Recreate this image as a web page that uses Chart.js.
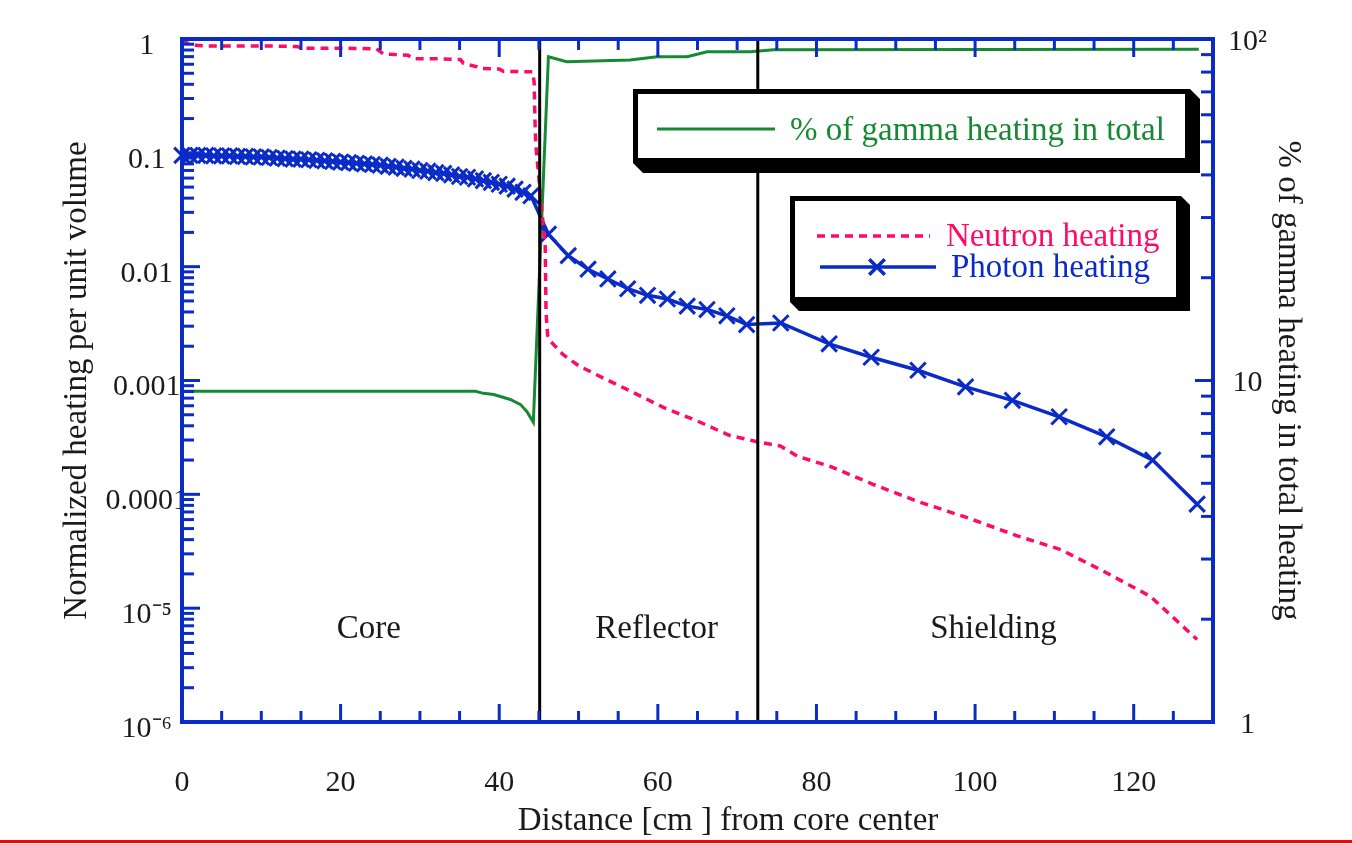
<!DOCTYPE html>
<html>
<head>
<meta charset="utf-8">
<script src="https://cdn.jsdelivr.net/npm/chart.js@4.4.1/dist/chart.umd.min.js"></script>
<style>
  html, body { margin: 0; padding: 0; background: #fff; overflow: hidden; }
  #wrap { width: 1352px; height: 844px; position: relative; }
</style>
</head>
<body>
<div id="wrap"><canvas id="heatingChart"></canvas></div>
<script>
// Neutron heating, normalized (left axis)
const neutronX = [0, 0.5, 1.5, 3, 6, 10, 14.5, 15.3, 20, 24.5,
    25.4, 28.5, 29.1, 32, 35.1, 35.5, 37.2, 37.6, 40, 40.5,
    44.2, 44.4, 44.5, 44.6, 45.0, 45.5, 45.8, 45.9, 46.1, 46.5,
    48, 50, 53, 56.5, 60.7, 65, 69, 72.5, 75.5, 77.6,
    81.8, 87.2, 92.7, 99.1, 105.4, 110.8, 116.2, 122.1, 128.0];
const neutronY = [0.98, 0.93, 0.88, 0.87, 0.87, 0.87, 0.86, 0.83, 0.83, 0.82,
    0.74, 0.72, 0.67, 0.67, 0.66, 0.61, 0.57, 0.55, 0.545, 0.52,
    0.515, 0.42, 0.2, 0.12, 0.06, 0.025, 0.015, 0.004, 0.0025, 0.0022,
    0.0017, 0.00135, 0.00106, 0.00081, 0.00058, 0.00044, 0.00033, 0.00029, 0.000265, 0.000216,
    0.000175, 0.000122, 0.000087, 0.000062, 0.000043, 0.0000327, 0.0000211, 0.0000127, 0.0000053];

// Photon heating, normalized (left axis)
const photonX = [0, 1, 2, 3, 4, 5, 6, 7, 8, 9,
    10, 11, 12, 13, 14, 15, 16, 17, 18, 19,
    20, 21, 22, 23, 24, 25, 26, 27, 28, 29,
    30, 31, 32, 33, 34, 35, 36, 37, 38, 39,
    40, 41, 42, 43, 44,
    46.2, 48.7, 51.2, 53.7, 56.2, 58.7, 61.2, 63.7, 66.2, 68.7, 71.2,
    75.5, 81.6, 86.9, 92.8, 98.8, 104.7, 110.6, 116.6, 122.4, 128.0];
const photonY = [0.095, 0.095, 0.095, 0.095, 0.094, 0.094, 0.094, 0.093, 0.093, 0.092,
    0.092, 0.091, 0.090, 0.089, 0.088, 0.088, 0.087, 0.086, 0.085, 0.084,
    0.083, 0.082, 0.081, 0.080, 0.079, 0.078, 0.076, 0.075, 0.073, 0.072,
    0.070, 0.069, 0.067, 0.066, 0.064, 0.062, 0.061, 0.059, 0.057, 0.055,
    0.053, 0.051, 0.048, 0.045, 0.042,
    0.0193, 0.0125, 0.0095, 0.0078, 0.0064, 0.0056, 0.0052, 0.0045, 0.0042, 0.0037, 0.0031,
    0.0032, 0.0021, 0.0016, 0.00123, 0.00088, 0.00067, 0.00048, 0.00032, 0.0002, 0.000082];

// % of gamma heating in total (right axis)
const gammaX = [0, 37, 38, 39.3, 41.4, 42.7, 43.5, 44.3, 46.2, 48.5, 56.5, 59.9, 63.7, 66.2, 71.7, 74.6, 128.2];
const gammaPct = [9.3, 9.3, 9.17, 9.1, 8.8, 8.5, 8.1, 7.55, 88.7, 85.8, 86.8, 88.7, 88.7, 91.8, 91.8, 93.0, 93.3];

const xTicks = [0, 20, 40, 60, 80, 100, 120];
const leftTicks = [1e-6, 1e-5, 1e-4, 1e-3, 1e-2, 1e-1, 1];
const leftTickLabels = ['10⁻⁶', '10⁻⁵', '0.0001', '0.001', '0.01', '0.1', '1'];
const rightTicks = [1, 10, 100];
const rightTickLabels = ['1', '10', '10²'];

const regionNames = ['Core', 'Reflector', 'Shielding'];
const boundaries = [45.1, 72.6];

const axisBlue = '#0a2bc8';
const serif = '"Liberation Serif", "Times New Roman", serif';
Chart.defaults.font.family = serif;
Chart.defaults.color = '#1a1a1a';

const toPoints = (xs, ys) => xs.map((x, i) => ({ x: x, y: ys[i] }));

function line(ctx, x1, y1, x2, y2) {
    ctx.beginPath();
    ctx.moveTo(x1, y1);
    ctx.lineTo(x2, y2);
    ctx.stroke();
}

function shadowBox(ctx, x0, y0, x1, y1, d) {
    ctx.fillStyle = '#000';
    ctx.beginPath();
    ctx.moveTo(x0, y0);
    ctx.lineTo(x1, y0);
    ctx.lineTo(x1 + d, y0 + d);
    ctx.lineTo(x1 + d, y1 + d);
    ctx.lineTo(x0 + d, y1 + d);
    ctx.lineTo(x0, y1);
    ctx.closePath();
    ctx.fill();
    ctx.fillStyle = '#fff';
    ctx.fillRect(x0 + 5, y0 + 5, x1 - x0 - 10, y1 - y0 - 10);
}

// frame, inward ticks, region lines and labels
const decorPlugin = {
    id: 'decor',
    afterDatasetsDraw(chart) {
        const { ctx, chartArea: a, scales } = chart;
        const xs = scales.x, yl = scales.y, yr = scales.y2;
        ctx.save();

        ctx.strokeStyle = '#000';
        ctx.lineWidth = 3;
        boundaries.forEach(b => {
            const px = xs.getPixelForValue(b);
            line(ctx, px, a.top, px, a.bottom);
        });

        ctx.strokeStyle = axisBlue;
        ctx.lineWidth = 4;
        ctx.strokeRect(a.left, a.top, a.right - a.left, a.bottom - a.top);

        ctx.lineWidth = 3;
        for (let v = 5; v < xs.max; v += 5) {
            const px = xs.getPixelForValue(v);
            const len = v % 20 === 0 ? 18 : 11;
            line(ctx, px, a.bottom, px, a.bottom - len);
            line(ctx, px, a.top, px, a.top + len);
        }
        for (let e = -6; e <= 0; e++) {
            for (let m = 1; m <= 9; m++) {
                const v = m * Math.pow(10, e);
                if (v > yl.max * 1.0001) break;
                const py = yl.getPixelForValue(v);
                line(ctx, a.left, py, a.left + (m === 1 ? 18 : 12), py);
            }
        }
        for (let e = 0; e <= 2; e++) {
            for (let m = 1; m <= 9; m++) {
                const v = m * Math.pow(10, e);
                if (v > yr.max * 1.0001) break;
                const py = yr.getPixelForValue(v);
                line(ctx, a.right, py, a.right - (m === 1 ? 18 : 12), py);
            }
        }

        // region names, roughly centred in each region
        const edges = [xs.min].concat(boundaries, [xs.max]);
        ctx.fillStyle = '#1a1a1a';
        ctx.font = '33px ' + serif;
        ctx.textAlign = 'center';
        ctx.textBaseline = 'middle';
        regionNames.forEach((name, i) => {
            const px = xs.getPixelForValue((edges[i] + edges[i + 1]) / 2);
            ctx.fillText(name, px + 8, a.bottom - 93);
        });

        // x axis title
        ctx.fillText('Distance [cm ] from core center', 728, 821);

        ctx.restore();
    },
    afterDraw(chart) {
        const { ctx } = chart;
        const ds = chart.data.datasets;
        ctx.save();

        // legend 1: gamma percentage
        shadowBox(ctx, 633, 89, 1190, 163, 10);
        ctx.strokeStyle = ds[2].borderColor;
        ctx.lineWidth = ds[2].borderWidth;
        line(ctx, 657, 129, 775, 129);
        ctx.font = '33px ' + serif;
        ctx.textAlign = 'left';
        ctx.textBaseline = 'alphabetic';
        ctx.fillStyle = ds[2].borderColor;
        ctx.fillText(ds[2].label, 790, 140);

        // legend 2: neutron and photon
        shadowBox(ctx, 790, 196, 1181, 302, 9);
        ctx.strokeStyle = ds[0].borderColor;
        ctx.lineWidth = ds[0].borderWidth;
        ctx.setLineDash(ds[0].borderDash);
        line(ctx, 817, 236, 930, 236);
        ctx.setLineDash([]);
        ctx.fillStyle = ds[0].borderColor;
        ctx.fillText(ds[0].label, 946, 246);

        ctx.strokeStyle = ds[1].borderColor;
        ctx.lineWidth = ds[1].borderWidth;
        line(ctx, 820, 267, 936, 267);
        Chart.helpers.drawPoint(ctx, {
            pointStyle: ds[1].pointStyle,
            radius: ds[1].pointRadius,
            borderWidth: ds[1].pointBorderWidth
        }, 877, 267);
        ctx.fillStyle = ds[1].borderColor;
        ctx.fillText(ds[1].label, 951, 277);

        // red rule under the figure
        ctx.strokeStyle = '#ff0000';
        ctx.lineWidth = 3;
        line(ctx, 0, 841.5, 1352, 841.5);

        ctx.restore();
    }
};

new Chart(document.getElementById('heatingChart'), {
    type: 'line',
    data: {
        datasets: [{
            label: 'Neutron heating',
            data: toPoints(neutronX, neutronY),
            yAxisID: 'y',
            borderColor: '#ff0a64',
            borderWidth: 3.5,
            borderDash: [8, 6],
            pointRadius: 0,
            tension: 0,
            clip: false
        }, {
            label: 'Photon heating',
            data: toPoints(photonX, photonY),
            yAxisID: 'y',
            borderColor: '#0a2bc8',
            backgroundColor: '#0a2bc8',
            borderWidth: 3.5,
            pointStyle: 'crossRot',
            pointRadius: 11,
            pointBorderWidth: 3,
            pointBorderColor: '#0a2bc8',
            tension: 0,
            clip: false
        }, {
            label: '% of gamma heating in total',
            data: toPoints(gammaX, gammaPct),
            yAxisID: 'y2',
            borderColor: '#168a33',
            borderWidth: 3,
            pointRadius: 0,
            tension: 0,
            clip: false
        }]
    },
    options: {
        responsive: true,
        maintainAspectRatio: false,
        animation: false,
        events: [],
        layout: { padding: { top: 39, left: 0, right: 0, bottom: 0 } },
        plugins: {
            legend: { display: false },
            tooltip: { enabled: false }
        },
        scales: {
            x: {
                type: 'linear',
                min: 0,
                max: 130,
                grid: { display: false, drawTicks: false },
                border: { display: false },
                afterBuildTicks: s => { s.ticks = xTicks.map(v => ({ value: v })); },
                afterFit: s => { s.height = 122; },
                ticks: {
                    font: { size: 30 },
                    padding: 43,
                    maxRotation: 0,
                    autoSkip: false,
                    callback: v => String(v)
                }
            },
            y: {
                type: 'logarithmic',
                position: 'left',
                min: 1e-6,
                max: 1,
                grid: { display: false, drawTicks: false },
                border: { display: false },
                afterBuildTicks: s => { s.ticks = leftTicks.map(v => ({ value: v })); },
                afterFit: s => { s.width = 182; },
                ticks: {
                    font: { size: 30 },
                    crossAlign: 'center',
                    padding: -6,
                    labelOffset: 7,
                    autoSkip: false,
                    callback: (v, i) => leftTickLabels[i]
                },
                title: {
                    display: true,
                    text: 'Normalized heating per unit volume',
                    font: { size: 33 },
                    color: '#1a1a1a',
                    padding: { top: 58, bottom: 0 }
                }
            },
            y2: {
                type: 'logarithmic',
                position: 'right',
                min: 1,
                max: 100,
                grid: { display: false, drawTicks: false },
                border: { display: false },
                afterBuildTicks: s => { s.ticks = rightTicks.map(v => ({ value: v })); },
                afterFit: s => { s.width = 139; },
                ticks: {
                    font: { size: 30 },
                    crossAlign: 'center',
                    padding: 15,
                    labelOffset: 3,
                    autoSkip: false,
                    callback: (v, i) => rightTickLabels[i]
                },
                title: {
                    display: true,
                    text: '% of gamma heating in total heating',
                    font: { size: 33 },
                    color: '#1a1a1a',
                    padding: { top: 45, bottom: 0 }
                }
            }
        }
    },
    plugins: [decorPlugin]
});
</script>
</body>
</html>
